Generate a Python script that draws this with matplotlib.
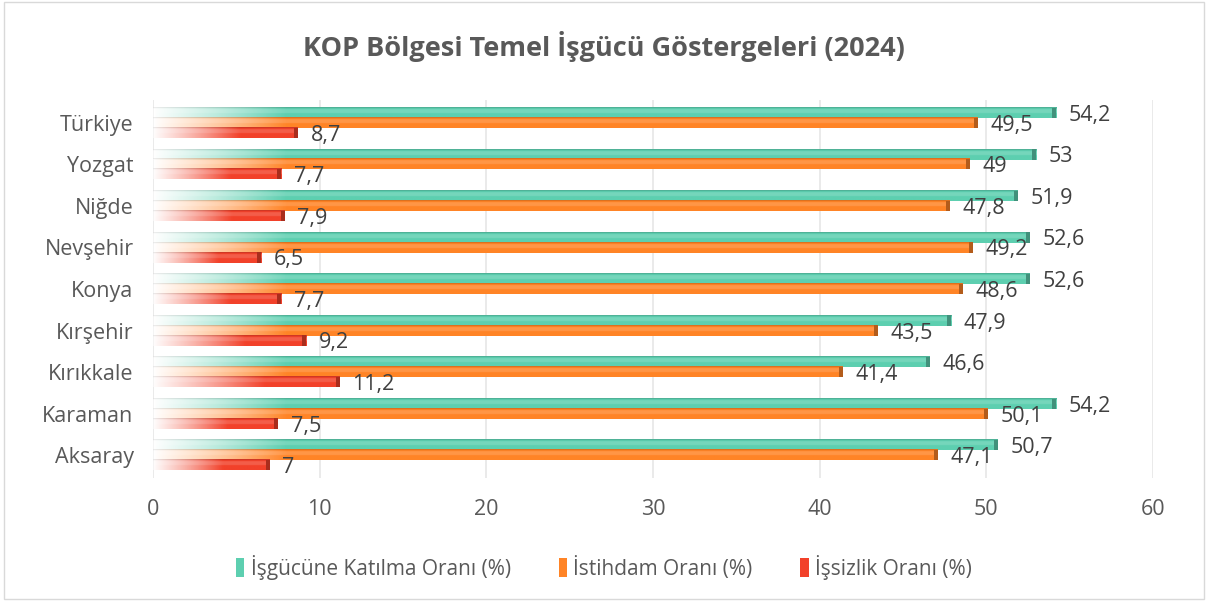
import matplotlib.pyplot as plt
import matplotlib.colors as mcolors
from matplotlib.patches import Rectangle, Patch
import numpy as np

plt.rcParams['font.family'] = ['Open Sans', 'DejaVu Sans']

# data (bottom to top, as drawn)
iller = ["Aksaray", "Karaman", "Kırıkkale", "Kırşehir", "Konya",
         "Nevşehir", "Niğde", "Yozgat", "Türkiye"]
katilma = [50.7, 54.2, 46.6, 47.9, 52.6, 52.6, 51.9, 53, 54.2]
istihdam = [47.1, 50.1, 41.4, 43.5, 48.6, 49.2, 47.8, 49, 49.5]
issizlik = [7, 7.5, 11.2, 9.2, 7.7, 6.5, 7.9, 7.7, 8.7]

series_names = ["İşgücüne Katılma Oranı (%)", "İstihdam Oranı (%)", "İşsizlik Oranı (%)"]
colors = ["#5DCFB0", "#FF8426", "#F2412A"]
offsets = [0.24, 0.0, -0.24]
bar_h = 0.245


def gradient_bar(ax, y, v, color):
    c = np.array(mcolors.to_rgb(color))
    dark = c * 0.7
    nx, ny = 300, 20
    xs = np.linspace(0, v, nx)
    ramp = min(8.0, 0.6 * v)
    s = np.clip(xs / ramp, 0, 1) ** 0.8
    img = np.ones((ny, nx, 4))
    for j in range(ny):
        row = np.outer(1 - s, [1, 1, 1]) + np.outer(s, c)
        frac = j / (ny - 1)  # 0 bottom .. 1 top
        if 0.45 < frac < 0.8:
            row = row * 0.85 + 0.15
        if frac > 0.9:
            row = row * 0.85
        img[j, :, :3] = np.clip(row, 0, 1)
        img[j, :, 3] = 0.5 + 0.5 * s
    ax.imshow(img, extent=(0, v, y - bar_h / 2, y + bar_h / 2),
              origin='lower', aspect='auto', interpolation='bilinear', zorder=2)
    ax.add_patch(Rectangle((v - 0.25, y - bar_h / 2), 0.25, bar_h,
                           facecolor=dark, edgecolor='none', zorder=3))


fig = plt.figure(figsize=(12.08, 6.01), dpi=100)
ax = fig.add_axes([0.1267, 0.2047, 0.8278, 0.6289])

ypos = np.arange(len(iller))
for vals, col, off in zip([katilma, istihdam, issizlik], colors, offsets):
    for i, v in enumerate(vals):
        y = ypos[i] + off
        gradient_bar(ax, y, v, col)
        lab = ("%g" % v).replace(".", ",")
        ax.text(v + 0.75, y - 0.06, lab, va='center', ha='left',
                fontsize=15.5, color='#404040', zorder=4)

ax.set_xlim(0, 60)
ax.set_ylim(-0.55, 8.55)
ax.set_xticks(range(0, 61, 10))
ax.set_yticks(ypos)
ax.set_yticklabels(iller)
ax.tick_params(axis='both', length=0, labelsize=15.5, labelcolor='#595959')
ax.tick_params(axis='y', pad=14)
ax.tick_params(axis='x', pad=15)
ax.xaxis.grid(True, color='#E6E6E6', linewidth=1.2, zorder=0)
ax.set_axisbelow(True)
for sp in ax.spines.values():
    sp.set_visible(False)

fig.text(0.5, 0.922, "KOP Bölgesi Temel İşgücü Göstergeleri (2024)",
         ha='center', va='center', fontsize=19.5, fontweight='bold', color='#595959')

handles = [Patch(facecolor=c, edgecolor='none') for c in colors]
fig.legend(handles, series_names, loc='center', bbox_to_anchor=(0.5, 0.056),
           ncol=3, frameon=False, fontsize=15, handlelength=0.4, handleheight=1.0,
           handletextpad=0.3, columnspacing=2.3, labelcolor='#595959')

fig.patches.append(Rectangle((0.003, 0.003), 0.994, 0.994, transform=fig.transFigure,
                             fill=False, edgecolor='#D9D9D9', linewidth=1))

fig.savefig("out.png", dpi=100)
